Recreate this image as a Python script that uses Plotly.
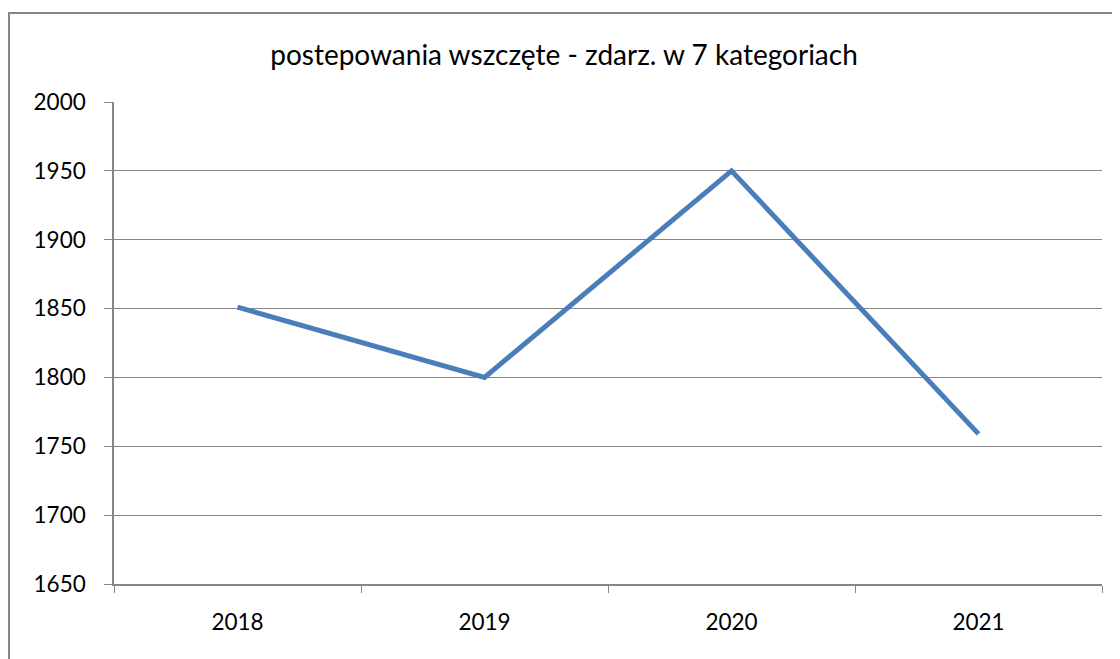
import plotly.graph_objects as go

years = ["2018", "2019", "2020", "2021"]
values = [1851, 1800, 1950, 1759]
title_text = "postepowania wszczęte - zdarz. w 7 kategoriach"

OFF = 8  # default page body margin
W, H = 1120 - OFF, 659 - OFF
# plot area in page pixels: x 114..1102, y 102..584
L, R, T, B = 114 - OFF, 18, 102 - OFF, 659 - 584
pw, ph = W - L - R, H - T - B

def px_x(x):
    return (x - OFF - L) / pw

def px_y(y):
    return (H - B - (y - OFF)) / ph

fig = go.Figure()
fig.add_trace(go.Scatter(
    x=years, y=values, mode="lines",
    line=dict(color="#4a7ebb", width=5),
    showlegend=False, hoverinfo="x+y",
))

fig.update_layout(
    width=W, height=H,
    margin=dict(l=L, r=R, t=T, b=B),
    paper_bgcolor="white", plot_bgcolor="white",
    font=dict(family="Lato, Carlito, Calibri, sans-serif", color="black", size=22.5),
    title=dict(text=title_text, x=(564 - OFF) / W, xanchor="center",
               y=1 - (55 - OFF) / H, yanchor="middle", font=dict(size=28)),
    xaxis=dict(
        type="category", tickson="boundaries", ticks="outside", ticklen=7,
        tickcolor="#868686", showline=True, linecolor="#868686", linewidth=1.5,
        showgrid=False, ticklabelstandoff=17, range=[-0.5, 3.5],
    ),
    yaxis=dict(
        range=[1650, 2000], dtick=50, tick0=1650, ticks="outside", ticklen=8,
        tickcolor="#868686", showline=True, linecolor="#868686", linewidth=1.5,
        showgrid=True, gridcolor="#868686", gridwidth=1.2, zeroline=False,
        ticklabelstandoff=14,
    ),
    shapes=[dict(
        type="rect", xref="paper", yref="paper",
        x0=px_x(9), x1=px_x(1130), y0=px_y(670), y1=px_y(13),
        line=dict(color="#868686", width=2), fillcolor="rgba(0,0,0,0)", layer="below",
    )],
)

fig.write_html("out.html")
